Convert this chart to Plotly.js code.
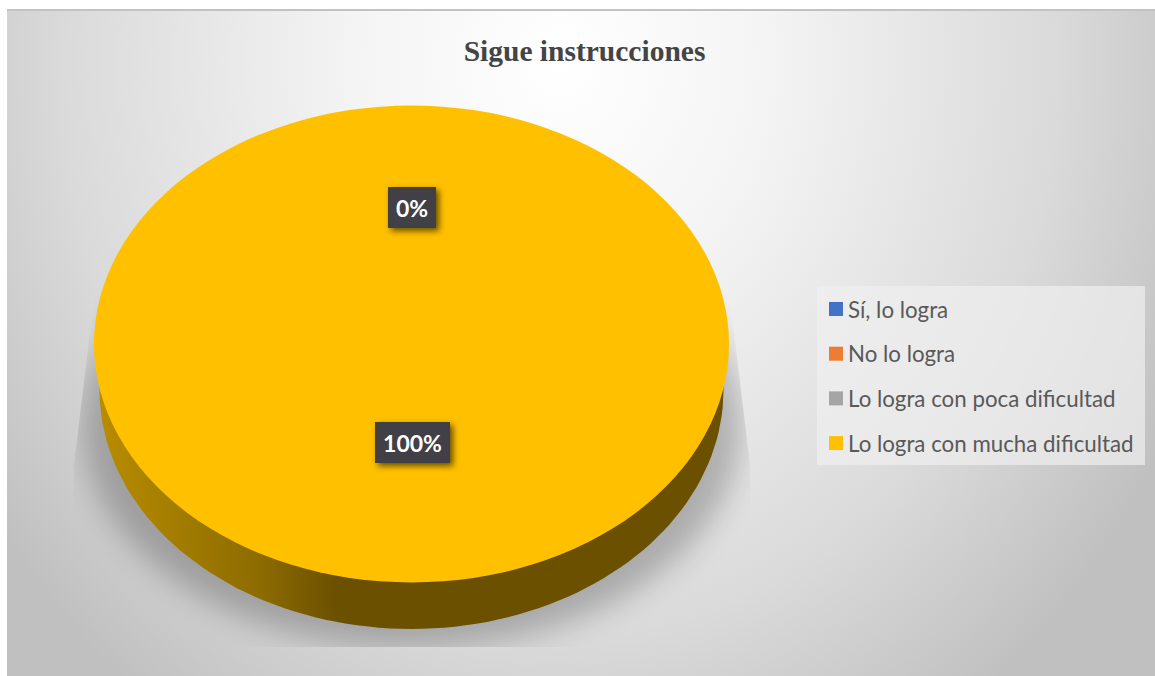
<!DOCTYPE html>
<html><head><meta charset="utf-8">
<script src="https://cdn.plot.ly/plotly-3.0.1.min.js"></script>
<style>
html,body{margin:0;padding:0;background:#fff;width:1155px;height:676px;overflow:hidden}
#bg{position:absolute;left:7px;top:9px;width:1148px;height:667px;box-sizing:border-box;border-top:2px solid #c2c2c2;
background:radial-gradient(ellipse 690px 800px at 553px 51px,#ffffff 0%,#f4f4f4 30%,#dadada 72%,#c0c0c0 100%)}
#shadowclip{position:absolute;left:0;top:0;width:1155px;height:676px;
clip-path:polygon(95px 290px,729px 290px,750px 465px,750px 647px,74px 647px,74px 465px)}
#shadow{position:absolute;left:82px;top:200px;width:659px;height:448px;border-radius:50%;background:rgba(0,0,0,.24);filter:blur(15px)}
#chart{position:absolute;left:0;top:0;width:1155px;height:676px}
</style></head><body>
<div id="bg"></div>
<div id="shadowclip"><div id="shadow"></div></div>
<div id="chart"></div>
<script>
const chartTitle = "Sigue instrucciones";
const categories = ["Sí, lo logra", "No lo logra", "Lo logra con poca dificultad", "Lo logra con mucha dificultad"];
const values = [0, 0, 0, 100];
const colors = ["#4472C4", "#ED7D31", "#A5A5A5", "#FFC000"];
const shownLabels = [{index: 0, x: 412, y: 207.5, w: 48}, {index: 3, x: 412.5, y: 442.5, w: 75}];

const W = 1155, H = 676;
const cx = 411.5, cy = 344, rx = 317.5, ry = 238.5;   // top face
const wallRx = 312, wallRy = 239, wallCy = 390;       // lower rim of the disc

const total = values.reduce((a, b) => a + b, 0);

const wallX = [], wallY = [];
for (let d = 0; d <= 180; d += 2) {
  const t = d * Math.PI / 180;
  wallX.push(cx + wallRx * Math.cos(t));
  wallY.push(wallCy + wallRy * Math.sin(t));
}
wallX.push(cx - wallRx, cx + wallRx);
wallY.push(wallCy - 8, wallCy - 8);

const traces = [
  {type: "scatter", x: wallX, y: wallY, mode: "lines", line: {width: 0}, fill: "toself",
   fillgradient: {type: "horizontal", colorscale: [[0, "#b88c00"], [0.13, "#a27c00"], [0.26, "#8c6b00"], [0.38, "#6b5000"], [1, "#6b5000"]]},
   showlegend: false, hoverinfo: "skip"},
  {type: "pie", labels: categories, values: values, sort: false, direction: "clockwise",
   marker: {colors: colors, line: {width: 0}}, textinfo: "none", hoverinfo: "skip", showlegend: false,
   domain: {x: [(cx - rx) / W, (cx + rx) / W], y: [1 - (cy + rx) / H, 1 - (cy - rx) / H]}}
];
categories.forEach((c, i) => traces.push({
  type: "scatter", x: [null], y: [null], mode: "markers", name: c, legendgroup: "g" + i,
  marker: {symbol: "square", size: 14, color: colors[i]}, hoverinfo: "skip"
}));

const layout = {
  width: W, height: H, margin: {l: 0, r: 0, t: 0, b: 0},
  paper_bgcolor: "rgba(0,0,0,0)", plot_bgcolor: "rgba(0,0,0,0)",
  xaxis: {range: [0, W], visible: false, fixedrange: true},
  yaxis: {range: [H, 0], visible: false, fixedrange: true},
  title: {text: "<b>" + chartTitle + "</b>", x: 584.5 / W, xanchor: "center", y: 1 - 51 / H, yanchor: "middle",
          font: {family: "Liberation Serif", size: 29.5, color: "#444444"}},
  legend: {x: 808 / W, xanchor: "left", y: 1 - 288 / H, yanchor: "top", bgcolor: "rgba(0,0,0,0)",
           font: {family: "Lato", size: 22.3, color: "#595959"}, tracegroupgap: 12.7, traceorder: "grouped", itemclick: false},
  shapes: [{type: "rect", xref: "x", yref: "y", x0: 817, x1: 1145, y0: 286, y1: 465, layer: "below",
            line: {width: 0}, fillcolor: "rgba(240,240,240,0.7)"}],
  annotations: shownLabels.map(l => ({
    xref: "x", yref: "y", x: l.x, y: l.y, showarrow: false,
    text: "<b>" + Math.round(values[l.index] / total * 100) + "%</b>",
    font: {family: "Lato", size: 23, color: "#ffffff"},
    bgcolor: "#404046", width: l.w, height: 41, borderpad: 0, borderwidth: 0, align: "center", valign: "middle"
  }))
};

Plotly.newPlot("chart", traces, layout, {displayModeBar: false}).then(() => {
  document.querySelectorAll(".pielayer").forEach(g =>
    g.setAttribute("transform", `translate(0 ${cy}) scale(1 ${ry / rx}) translate(0 ${-cy})`));
  document.querySelectorAll(".annotation rect.bg").forEach(r =>
    r.style.filter = "drop-shadow(3px 3px 3px rgba(0,0,0,.6))");
  document.querySelectorAll(".legend .legendsymbols").forEach(g =>
    g.setAttribute("transform", "translate(8 0)"));
});
</script>
</body></html>
